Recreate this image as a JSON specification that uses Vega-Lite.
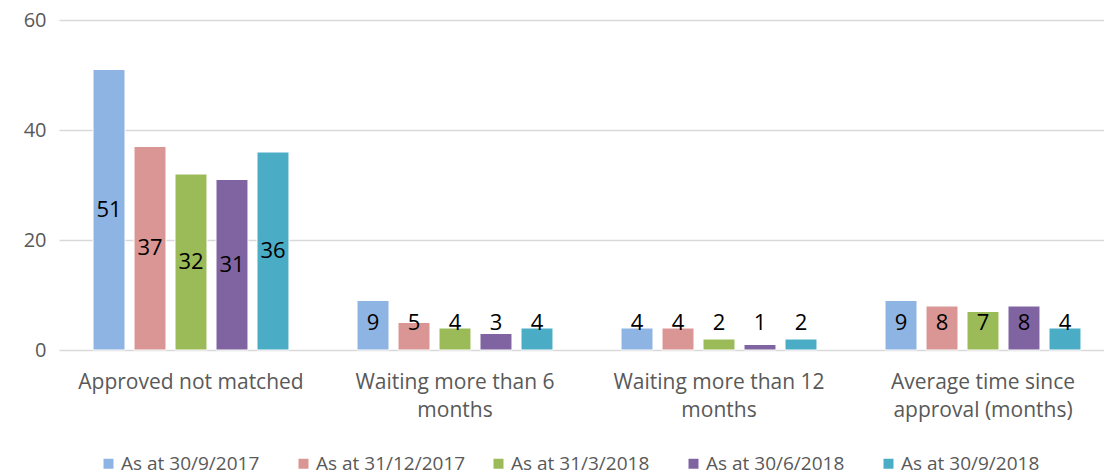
{
  "$schema": "https://vega.github.io/schema/vega-lite/v6.json",
  "autosize": {"type": "none"},
  "width": 1045,
  "height": 330,
  "padding": {"left": 59, "top": 20, "right": 0, "bottom": 126},
  "background": "white",
  "config": {"view": {"stroke": null}, "font": "Open Sans"},
  "data": {"values": [
    {"category": "Approved not matched", "series": "As at 30/9/2017", "value": 51},
    {"category": "Approved not matched", "series": "As at 31/12/2017", "value": 37},
    {"category": "Approved not matched", "series": "As at 31/3/2018", "value": 32},
    {"category": "Approved not matched", "series": "As at 30/6/2018", "value": 31},
    {"category": "Approved not matched", "series": "As at 30/9/2018", "value": 36},
    {"category": "Waiting more than 6 months", "series": "As at 30/9/2017", "value": 9},
    {"category": "Waiting more than 6 months", "series": "As at 31/12/2017", "value": 5},
    {"category": "Waiting more than 6 months", "series": "As at 31/3/2018", "value": 4},
    {"category": "Waiting more than 6 months", "series": "As at 30/6/2018", "value": 3},
    {"category": "Waiting more than 6 months", "series": "As at 30/9/2018", "value": 4},
    {"category": "Waiting more than 12 months", "series": "As at 30/9/2017", "value": 4},
    {"category": "Waiting more than 12 months", "series": "As at 31/12/2017", "value": 4},
    {"category": "Waiting more than 12 months", "series": "As at 31/3/2018", "value": 2},
    {"category": "Waiting more than 12 months", "series": "As at 30/6/2018", "value": 1},
    {"category": "Waiting more than 12 months", "series": "As at 30/9/2018", "value": 2},
    {"category": "Average time since approval (months)", "series": "As at 30/9/2017", "value": 9},
    {"category": "Average time since approval (months)", "series": "As at 31/12/2017", "value": 8},
    {"category": "Average time since approval (months)", "series": "As at 31/3/2018", "value": 7},
    {"category": "Average time since approval (months)", "series": "As at 30/6/2018", "value": 8},
    {"category": "Average time since approval (months)", "series": "As at 30/9/2018", "value": 4}
  ]},
  "encoding": {
    "x": {
      "field": "category", "type": "nominal", "sort": null,
      "scale": {"range": [0, 1056], "paddingInner": 0, "paddingOuter": 0},
      "axis": {
        "title": null, "domain": false, "ticks": false, "labelAngle": 0,
        "labelFontSize": 21, "labelColor": "#595959", "labelPadding": 21,
        "labelBaseline": "top", "labelLineHeight": 28, "labelLimit": 300,
        "labelExpr": "datum.label == 'Waiting more than 6 months' ? ['Waiting more than 6', 'months'] : datum.label == 'Waiting more than 12 months' ? ['Waiting more than 12', 'months'] : datum.label == 'Average time since approval (months)' ? ['Average time since', 'approval (months)'] : datum.label"
      }
    },
    "xOffset": {
      "field": "series", "type": "nominal", "sort": null,
      "scale": {"paddingInner": 0.22, "paddingOuter": 0.83}
    }
  },
  "layer": [
    {
      "mark": {"type": "bar", "stroke": "white", "strokeWidth": 1},
      "encoding": {
        "y": {
          "field": "value", "type": "quantitative",
          "scale": {"domain": [0, 60]},
          "axis": {
            "title": null, "domain": false, "ticks": false, "values": [0, 20, 40, 60],
            "labelFontSize": 20, "labelColor": "#595959", "labelPadding": 13,
            "gridColor": "#d9d9d9", "gridWidth": 1.5
          }
        },
        "color": {
          "field": "series", "type": "nominal", "sort": null,
          "scale": {"range": ["#8EB4E3", "#D99694", "#9BBB59", "#8064A2", "#4BACC6"]},
          "legend": {
            "title": null, "orient": "none", "direction": "horizontal",
            "legendX": 40, "legendY": 434, "symbolType": "square", "symbolSize": 100,
            "symbolStrokeWidth": 0, "labelFontSize": 19, "labelColor": "#595959",
            "columns": 5, "gridAlign": "all", "columnPadding": 23, "symbolOffset": 0, "labelOffset": 3
          }
        }
      }
    },
    {
      "transform": [{"calculate": "max(datum.value / 2, 5)", "as": "labelPos"}],
      "mark": {"type": "text", "fontSize": 22, "color": "black", "baseline": "middle"},
      "encoding": {
        "y": {"field": "labelPos", "type": "quantitative"},
        "text": {"field": "value", "type": "quantitative"}
      }
    }
  ]
}
